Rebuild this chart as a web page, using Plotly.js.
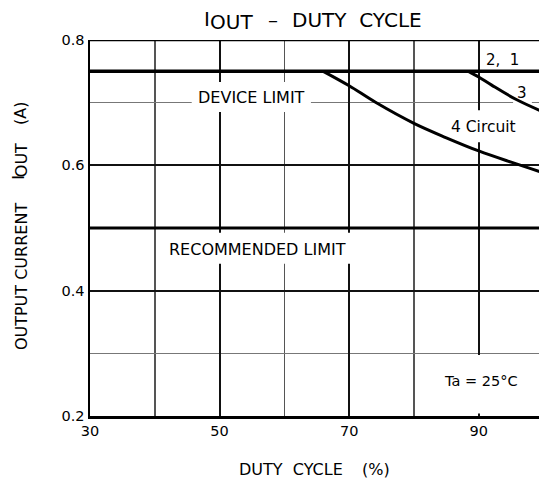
<!DOCTYPE html>
<html>
<head>
<meta charset="utf-8">
<script src="https://cdn.plot.ly/plotly-3.0.1.min.js"></script>
<style>html,body{margin:0;padding:0;background:#fff;}#chart{width:539px;height:479px;}</style>
</head>
<body>
<div id="chart"></div>
<script>
// Data
const deviceLimitX = [30, 100];
const deviceLimitY = [0.75, 0.75];
const recommendedX = [30, 100];
const recommendedY = [0.5, 0.5];
const circuit4X = [66, 70, 74, 80, 85, 90, 95, 100];
const circuit4Y = [0.75, 0.727, 0.701, 0.667, 0.644, 0.623, 0.605, 0.588];
const circuit3X = [88.4, 90, 92, 95.8, 100];
const circuit3Y = [0.75, 0.741, 0.728, 0.705, 0.685];
const xTickVals = [30, 50, 70, 90];
const yTickVals = [0.2, 0.4, 0.6, 0.8];

const FONT = "DejaVu Sans";
const lineStyle = (w) => ({color: "#000", width: w});

const traces = [
  {x: deviceLimitX, y: deviceLimitY, mode: "lines", line: lineStyle(3.5), hoverinfo: "skip"},
  {x: recommendedX, y: recommendedY, mode: "lines", line: lineStyle(3), hoverinfo: "skip"},
  {x: circuit4X, y: circuit4Y, mode: "lines", line: Object.assign(lineStyle(3), {shape: "spline", smoothing: 1}), hoverinfo: "skip"},
  {x: circuit3X, y: circuit3Y, mode: "lines", line: Object.assign(lineStyle(3), {shape: "spline", smoothing: 1}), hoverinfo: "skip"}
];

function gap(x0, x1, y0, y1) {
  return {type: "rect", xref: "x", yref: "y", x0: x0, x1: x1, y0: y0, y1: y1,
          fillcolor: "#fff", line: {width: 0}, layer: "between"};
}

const shapes = [
  gap(45.7, 64.1, 0.685, 0.733),
  gap(40.8, 71, 0.443, 0.4924),
  gap(85.6, 95.9, 0.637, 0.688),
  gap(95.3, 98.2, 0.69, 0.715),
  gap(80.3, 100, 0.204, 0.2975),
  {type: "line", xref: "paper", yref: "y", x0: 0, x1: 1, y0: 0.8, y1: 0.8,
   line: {color: "#000", width: 2.5}, layer: "above"}
];

function txt(t, x, y, size, extra) {
  return Object.assign({text: t, x: x, y: y, xref: "x", yref: "y", showarrow: false,
    font: {family: FONT, size: size, color: "#000"}, xanchor: "center", yanchor: "middle"}, extra || {});
}
function ptxt(t, px, py, size, extra) {
  return Object.assign({text: t, x: px, y: py, xref: "paper", yref: "paper", showarrow: false,
    font: {family: FONT, size: size, color: "#000"}, xanchor: "center", yanchor: "middle"}, extra || {});
}

const annotations = [
  txt("DEVICE LIMIT", 54.85, 0.709, 16),
  txt("RECOMMENDED LIMIT", 55.8, 0.465, 16),
  txt("2,  1", 93.7, 0.768, 15),
  txt("3", 96.6, 0.716, 15),
  txt("4 Circuit", 90.7, 0.661, 15.5),
  txt("Ta = 25°C", 90.3, 0.2566, 14.5),
  // title
  ptxt("I", 0.2606, 1.0567, 20),
  ptxt("OUT", 0.316, 1.0475, 20),
  ptxt("–", 0.4076, 1.0545, 20),
  ptxt("DUTY  CYCLE", 0.5947, 1.0545, 20),
  // x title
  ptxt("DUTY  CYCLE", 0.4477, -0.141, 16),
  ptxt("(%)", 0.6370, -0.141, 16),
  // y title
  ptxt("OUTPUT CURRENT", -0.1537, 0.372, 16, {textangle: -90}),
  ptxt("I", -0.1580, 0.6340, 16, {textangle: -90}),
  ptxt("OUT", -0.1510, 0.6809, 16, {textangle: -90}),
  ptxt("(A)", -0.1537, 0.8059, 16, {textangle: -90})
];

const layout = {
  width: 539, height: 479,
  margin: {l: 90, r: 0, t: 40, b: 63},
  paper_bgcolor: "#fff", plot_bgcolor: "#fff",
  showlegend: false,
  font: {family: FONT, size: 14, color: "#000"},
  xaxis: {
    range: [30, 99.3], tickvals: xTickVals, ticks: "", showline: true, linecolor: "#000", linewidth: 3,
    showgrid: true, gridcolor: "#111", gridwidth: 2, zeroline: false,
    tickfont: {family: FONT, size: 14.5, color: "#000"},
    minor: {dtick: 10, tick0: 30, showgrid: true, gridcolor: "#555", gridwidth: 1.5, ticks: ""}
  },
  yaxis: {
    range: [0.2, 0.8], tickvals: yTickVals, ticktext: ["0.2", "0.4", "0.6", "0.8"], ticks: "",
    showline: true, linecolor: "#000", linewidth: 2.5,
    showgrid: true, gridcolor: "#111", gridwidth: 2, zeroline: false,
    tickfont: {family: FONT, size: 14.5, color: "#000"},
    minor: {dtick: 0.1, tick0: 0.2, showgrid: true, gridcolor: "#777", gridwidth: 1.2, ticks: ""}
  },
  shapes: shapes,
  annotations: annotations
};

Plotly.newPlot("chart", traces, layout, {staticPlot: true, displayModeBar: false});
</script>
</body>
</html>
